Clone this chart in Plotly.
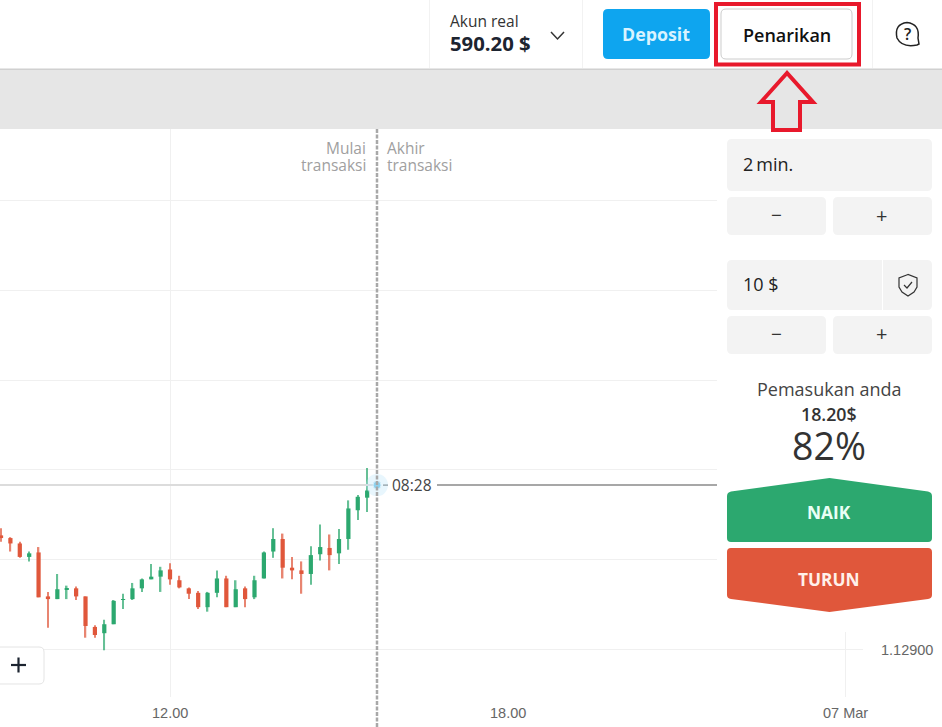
import pandas as pd
import plotly.graph_objects as go

W = 942
H = 727

# 10 minute candles, first one at 09:00
times = pd.date_range('2022-03-06 09:00', periods=40, freq='10min')

highs = [1.13035, 1.13025, 1.13020, 1.13009, 1.13014, 1.12964, 1.12984, 1.12971, 1.12970, 1.12959,
         1.12927, 1.12933, 1.12955, 1.12962, 1.12974, 1.12979, 1.12995, 1.12992, 1.12996, 1.12982,
         1.12969, 1.12965, 1.12964, 1.12988, 1.12982, 1.12977, 1.12970, 1.12982, 1.13009, 1.13035,
         1.13029, 1.13003, 1.12998, 1.13015, 1.13039, 1.13028, 1.13034, 1.13066, 1.13072, 1.13102]
lows = [1.13020, 1.13009, 1.13002, 1.12998, 1.12958, 1.12924, 1.12956, 1.12956, 1.12955, 1.12913,
        1.12913, 1.12899, 1.12928, 1.12945, 1.12955, 1.12964, 1.12978, 1.12964, 1.12972, 1.12968,
        1.12956, 1.12945, 1.12942, 1.12958, 1.12947, 1.12947, 1.12947, 1.12956, 1.12979, 1.13002,
        1.12979, 1.12978, 1.12962, 1.12972, 1.12999, 1.12988, 1.12995, 1.13011, 1.13044, 1.13053]
opens = [1.13027, 1.13024, 1.13018, 1.13003, 1.13008, 1.12959, 1.12956, 1.12967, 1.12968, 1.12959,
         1.12925, 1.12918, 1.12928, 1.12955, 1.12956, 1.12968, 1.12978, 1.12981, 1.12989, 1.12977,
         1.12968, 1.12963, 1.12947, 1.12963, 1.12979, 1.12947, 1.12968, 1.12958, 1.12979, 1.13009,
         1.13023, 1.12991, 1.12988, 1.12984, 1.13006, 1.13013, 1.13007, 1.13023, 1.13055, 1.13069]
closes = [1.13024, 1.13018, 1.13003, 1.13007, 1.12958, 1.12956, 1.12967, 1.12968, 1.12959, 1.12926,
          1.12916, 1.12928, 1.12954, 1.12956, 1.12968, 1.12978, 1.12981, 1.12988, 1.12978, 1.12969,
          1.12962, 1.12947, 1.12963, 1.12979, 1.12947, 1.12967, 1.12956, 1.12977, 1.13008, 1.13023,
          1.12991, 1.12988, 1.12984, 1.13005, 1.13014, 1.13005, 1.13023, 1.13057, 1.13070, 1.13077]

price_grid = [1.129, 1.130, 1.131, 1.132, 1.133, 1.134]
time_ticks = ['2022-03-06 12:00', '2022-03-06 18:00', '2022-03-07 00:00']
time_labels = ['12.00', '18.00', '07 Mar']
time_grid = ['2022-03-06 12:00', '2022-03-07 00:00']

current_price = 1.13083
deal_time = '2022-03-06 15:40:30'
axis_start = '2022-03-06 08:58:55'
axis_end = '2022-03-07 01:42:18'
line_right_times = ['2022-03-06 15:46:52', '2022-03-06 15:52:13', None,
                    '2022-03-06 16:44:24', '2022-03-06 21:42:40']
line_right_prices = [current_price, current_price, None, current_price, current_price]

GREEN = '#2ca86f'
RED = '#e0573b'
PANEL = '#f3f3f3'
MARK = '#e8192c'
FONT = 'Open Sans'
AXIS_FONT = 'Liberation Sans'

shapes = []
notes = []


def px(x):
    return round(x / W, 5)


def py(y):
    return round(1 - y / H, 5)


def box(x0, y0, x1, y1, fill, line=None, lw=0):
    shapes.append(dict(type='rect', xref='paper', yref='paper', x0=px(x0), x1=px(x1), y0=py(y0), y1=py(y1),
                       fillcolor=fill, line=dict(color=line or fill, width=lw)))


def path(points, fill=None, line=None, lw=0, closed=False):
    d = ''
    for i, p in enumerate(points):
        d += ('M' if i == 0 else 'L') + f'{px(p[0])},{py(p[1])} '
    if closed:
        d += 'Z'
    shapes.append(dict(type='path', xref='paper', yref='paper', path=d,
                       fillcolor=fill or 'rgba(0,0,0,0)', line=dict(color=line or 'rgba(0,0,0,0)', width=lw)))


def round_box(x0, y0, x1, y1, fill, line=None, lw=0, r=5):
    d = (f'M{px(x0 + r)},{py(y0)} L{px(x1 - r)},{py(y0)} Q{px(x1)},{py(y0)} {px(x1)},{py(y0 + r)} '
         f'L{px(x1)},{py(y1 - r)} Q{px(x1)},{py(y1)} {px(x1 - r)},{py(y1)} '
         f'L{px(x0 + r)},{py(y1)} Q{px(x0)},{py(y1)} {px(x0)},{py(y1 - r)} '
         f'L{px(x0)},{py(y0 + r)} Q{px(x0)},{py(y0)} {px(x0 + r)},{py(y0)} Z')
    shapes.append(dict(type='path', xref='paper', yref='paper', path=d, fillcolor=fill,
                       line=dict(color=line or 'rgba(0,0,0,0)', width=lw)))


def text(x, y, s, size, color='#333333', anchor='center', weight=400, family=FONT):
    # annotations keep a small pad round the text, take it back for edge anchored ones
    shift = {'left': -2, 'right': 2, 'center': 0}[anchor]
    notes.append(dict(xref='paper', yref='paper', x=px(x), y=py(y), text=s, showarrow=False,
                      xanchor=anchor, yanchor='middle', align=anchor, xshift=shift,
                      font=dict(family=family, size=size, color=color, weight=weight)))


fig = go.Figure()

fig.add_trace(go.Scatter(x=[axis_start, deal_time], y=[current_price, current_price], mode='lines',
                         line=dict(color='#dcdcdc', width=2), hoverinfo='skip'))
fig.add_trace(go.Scatter(x=line_right_times, y=line_right_prices, mode='lines',
                         line=dict(color='#8a8a8a', width=1.5), hoverinfo='skip'))

# candles as two bar traces, the wick is thinner and paler than the body
colors = [GREEN if c >= o else RED for o, c in zip(opens, closes)]
fig.add_trace(go.Bar(x=times, base=lows, y=[h - l for h, l in zip(highs, lows)],
                     width=96000, marker=dict(color=colors, line=dict(width=0)), opacity=0.72))
fig.add_trace(go.Bar(x=times, base=[min(o, c) for o, c in zip(opens, closes)],
                     y=[abs(c - o) for o, c in zip(opens, closes)],
                     width=270000, marker=dict(color=colors, line=dict(width=0))))

# masks so the grid only shows where the page shows it
box(0, 697, W, H, 'white')
box(717, 0, W, 632, 'white')
box(863, 0, W, H, 'white')
box(0, 0, W, 69, 'white')
box(0, 69, W, 129, '#e6e6e6')
box(0, 68.5, W, 70, '#d0d0d0')
for sep in [429, 582, 872]:
    box(sep, 0, sep + 1, 68, '#f2f2f2')

# deal line
path([(377, 129), (377, H)], line='#a8a8a8', lw=2.5)
shapes[-1]['line']['dash'] = '4px,1.5px'

# top bar
text(450, 21, 'Akun real', 15.5, '#333333', 'left')
text(450, 43, '590.20 $', 20.3, '#1c2430', 'left', 700)
path([(551, 32), (557.5, 39), (564, 32)], line='#333333', lw=1.5)
round_box(603, 9, 710, 59, '#0ea5ef')
text(656.5, 34, 'Deposit', 17.8, '#d8f3ff', 'center', 700)
round_box(721, 9, 852, 59, 'white', '#cccccc', 1)
text(786.5, 34.5, 'Penarikan', 18, '#111111', 'center', 600)
box(716, 4, 859, 64.5, 'rgba(0,0,0,0)', MARK, 4)
path([(787, 73), (761, 102), (773, 102), (773, 130), (800, 130), (800, 102), (813, 102)],
     line=MARK, lw=4, closed=True)

# help icon
d = (f'M{px(917)},{py(45)} Q{px(902)},{py(48)} {px(897)},{py(38)} Q{px(894)},{py(24)} {px(907)},{py(22.5)} '
     f'Q{px(920)},{py(24)} {px(918)},{py(38)} L{px(919)},{py(44)} Z')
shapes.append(dict(type='path', xref='paper', yref='paper', path=d, line=dict(color='#222222', width=1.5)))
text(907.5, 34, '?', 16, '#222222', 'center', 600)

# order panel
round_box(727, 139, 932, 191, PANEL)
round_box(727, 197, 826, 235, PANEL)
round_box(833, 197, 932, 235, PANEL)
round_box(727, 260, 932, 310, PANEL)
box(882, 260, 883, 310, 'white')
round_box(727, 316, 826, 354, PANEL)
round_box(833, 316, 932, 354, PANEL)
text(743, 164.5, '2\u2009min.', 18, '#222222', 'left')
text(743, 284.5, '10 $', 18, '#222222', 'left')
for yy in [215, 334]:
    text(776.5, yy, '−', 19, '#333333')
    text(881.5, yy, '+', 20, '#333333')
path([(908, 274.5), (899, 278), (899, 287), (902, 292), (908, 296), (914, 292), (917, 287), (917, 278)],
     line='#333333', lw=1.2, closed=True)
path([(904, 285), (907, 288), (912, 282)], line='#333333', lw=1.2)

text(829.5, 389, 'Pemasukan anda', 18, '#444444')
text(829.5, 413.5, '18.20$', 17.8, '#333333', 'center', 600)
text(829.5, 446, '82%', 37.5, '#333333')

d = (f'M{px(829.5)},{py(478)} L{px(928)},{py(491.5)} Q{px(932)},{py(492.5)} {px(932)},{py(496)} '
     f'L{px(932)},{py(538)} Q{px(932)},{py(542)} {px(928)},{py(542)} L{px(731)},{py(542)} '
     f'Q{px(727)},{py(542)} {px(727)},{py(538)} L{px(727)},{py(496)} Q{px(727)},{py(492.5)} {px(731)},{py(491.5)} Z')
shapes.append(dict(type='path', xref='paper', yref='paper', path=d, fillcolor=GREEN, line=dict(width=0)))
text(829.5, 512.5, 'NAIK', 17.3, '#eafff5', 'center', 700)
d = (f'M{px(731)},{py(548)} L{px(928)},{py(548)} Q{px(932)},{py(548)} {px(932)},{py(552)} '
     f'L{px(932)},{py(595)} Q{px(932)},{py(598.5)} {px(928)},{py(599)} L{px(829.5)},{py(612)} '
     f'L{px(731)},{py(599)} Q{px(727)},{py(598.5)} {px(727)},{py(595)} L{px(727)},{py(552)} Q{px(727)},{py(548)} {px(731)},{py(548)} Z')
shapes.append(dict(type='path', xref='paper', yref='paper', path=d, fillcolor=RED, line=dict(width=0)))
text(829.5, 579.5, 'TURUN', 17.3, '#fff0ea', 'center', 700)

# zoom button
round_box(-8, 647, 44, 684, 'white', '#e4e4e4', 1)
path([(11, 665), (26, 665)], line='#1c2430', lw=2.2)
path([(18.5, 657.5), (18.5, 672.5)], line='#1c2430', lw=2.2)

# chart labels
text(366, 148, 'Mulai', 15.5, '#a0a0a0', 'right')
text(366, 165, 'transaksi', 15.5, '#a0a0a0', 'right')
text(387, 148, 'Akhir', 15.5, '#a0a0a0', 'left')
text(387, 165, 'transaksi', 15.5, '#a0a0a0', 'left')
text(412, 485, '08:28', 15.5, '#444444')
text(933, 650, f'{price_grid[0]:.5f}', 14.5, '#666666', 'right', family=AXIS_FONT)
for t, lab in zip(time_ticks, time_labels):
    notes.append(dict(xref='x', yref='paper', x=t, y=py(712.5), text=lab, showarrow=False,
                      yanchor='middle', font=dict(family=AXIS_FONT, size=14.5, color='#666666')))

# current price dot
fig.add_trace(go.Scatter(x=[deal_time], y=[current_price], mode='markers',
                         marker=dict(size=22, color='rgba(190,230,250,0.35)'), hoverinfo='skip'))
fig.add_trace(go.Scatter(x=[deal_time], y=[current_price], mode='markers',
                         marker=dict(size=8, color='#8fd3f0', line=dict(color='#d8f0fb', width=1)), hoverinfo='skip'))

fig.update_layout(
    width=W, height=H,
    margin=dict(l=0, r=0, t=0, b=0),
    paper_bgcolor='white', plot_bgcolor='white',
    showlegend=False,
    barmode='overlay',
    shapes=shapes,
    annotations=notes,
    xaxis=dict(type='date', range=[axis_start, axis_end],
               tickvals=time_grid, showticklabels=False, showgrid=True, gridcolor='#f0f0f0',
               gridwidth=1, zeroline=False, showline=False, ticks=''),
    yaxis=dict(range=[1.128135, 1.136235], tickvals=price_grid, showticklabels=False, showgrid=True,
               gridcolor='#f0f0f0', gridwidth=1, zeroline=False, showline=False, ticks=''),
)

# page margin would push the 942 wide figure out of the window
fig.write_html("out.html", config=dict(displayModeBar=False),
               post_script="document.body.style.margin='0';")
